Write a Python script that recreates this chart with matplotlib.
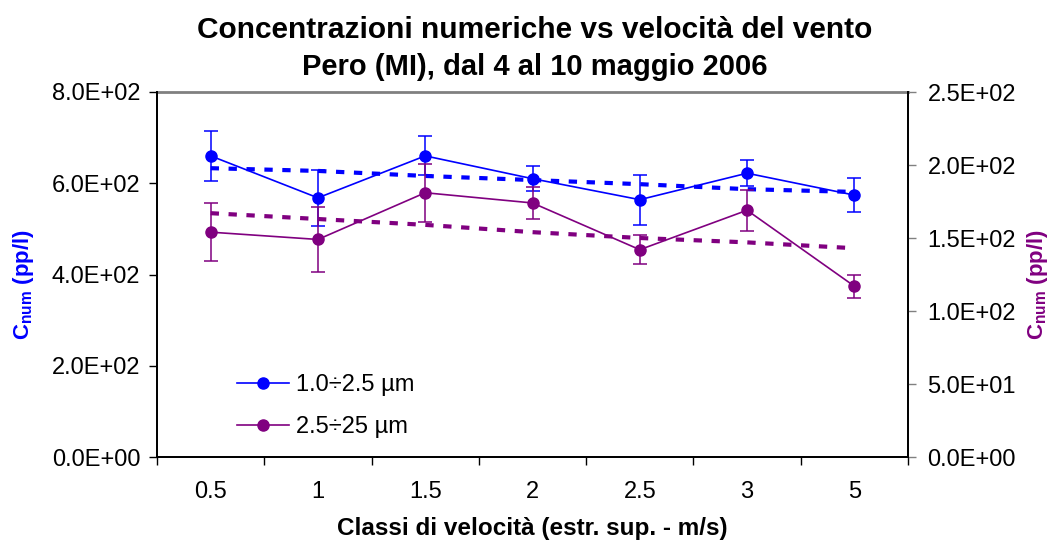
import numpy as np
import matplotlib.pyplot as plt

plt.rcParams['font.family'] = ['Liberation Sans', 'DejaVu Sans']
plt.rcParams['mathtext.fontset'] = 'custom'
plt.rcParams['mathtext.bf'] = 'Liberation Sans:bold'
plt.rcParams['mathtext.rm'] = 'Liberation Sans'

# Dati
classi = ['0.5', '1', '1.5', '2', '2.5', '3', '5']
fine = [660, 568, 660, 610, 564, 622, 574]          # 1.0÷2.5 µm (asse sx)
fine_err = [55, 62, 43, 28, 55, 29, 37]
fine_trend = [633, 627, 616, 607, 598, 587, 581]
coarse = [154, 149, 181, 174, 142, 169, 117]        # 2.5÷25 µm (asse dx)
coarse_err = [20, 22, 20, 11, 10, 14, 8]
coarse_trend = [167, 163, 159, 154, 150, 147, 143]

left_ticks = ['0.0E+00', '2.0E+02', '4.0E+02', '6.0E+02', '8.0E+02']
right_ticks = ['0.0E+00', '5.0E+01', '1.0E+02', '1.5E+02', '2.0E+02', '2.5E+02']

blu = '#0000FF'
viola = '#800080'

fig = plt.figure(figsize=(10.54, 5.42), dpi=100)
ax = fig.add_axes([157/1054, 1-457/542, 751/1054, 365/542])
ax2 = ax.twinx()
x = np.arange(len(classi))

# serie sx
ax.errorbar(x, fine, yerr=fine_err, fmt='none', ecolor=blu, elinewidth=1.1,
            capsize=5, capthick=1.1, zorder=3)
h1, = ax.plot(x, fine, color=blu, lw=1.2, marker='o', ms=8, zorder=4)
ax.plot(x, fine_trend, color=blu, lw=3, dashes=(2, 2.3), zorder=2)

# serie dx
ax2.errorbar(x, coarse, yerr=coarse_err, fmt='none', ecolor=viola, elinewidth=1.1,
             capsize=5, capthick=1.1, zorder=3)
h2, = ax2.plot(x, coarse, color=viola, lw=1.2, marker='o', ms=8, zorder=4)
ax2.plot(x, coarse_trend, color=viola, lw=3, dashes=(2, 2.3), zorder=2)

ax.set_xlim(-0.5, 6.5)
ax.set_ylim(0, 800)
ax2.set_ylim(0, 250)
ax.set_yticks(np.arange(0, 801, 200))
ax2.set_yticks(np.arange(0, 251, 50))
ax.set_yticklabels(left_ticks)
ax2.set_yticklabels(right_ticks)
ax.set_xticks(x)
ax.set_xticklabels(classi)
ax.set_xticks(np.arange(-0.5, 7, 1), minor=True)
ax.tick_params(axis='x', which='major', length=0, pad=17, labelsize=17)
ax.tick_params(axis='x', which='minor', length=6, width=1, direction='out')
ax.tick_params(axis='y', length=6, width=1, labelsize=17, pad=6)
ax2.tick_params(axis='y', length=6, width=1, labelsize=17, pad=8, color='#808080')

ax.axhline(800, color='#808080', lw=2, zorder=1, clip_on=False)
for a in (ax, ax2):
    a.spines['top'].set_visible(False)
    for s in ('left', 'right', 'bottom'):
        a.spines[s].set_linewidth(1.3)

fig.text(535/1054, 1-30/542, 'Concentrazioni numeriche vs velocità del vento',
         ha='center', va='center', fontsize=21.5, fontweight='bold')
fig.text(535/1054, 1-67/542, 'Pero (MI), dal 4 al 10 maggio 2006',
         ha='center', va='center', fontsize=21, fontweight='bold')
fig.text(532/1054, 1-529/542, 'Classi di velocità (estr. sup. - m/s)',
         ha='center', va='center', fontsize=17.5, fontweight='bold')
fig.text(23/1054, 1-340/542, r'C$_{\mathbf{num}}$ (pp/l)', rotation=90,
         ha='center', va='bottom', fontsize=16, fontweight='bold', color=blu)
fig.text(1038/1054, 1-340/542, r'C$_{\mathbf{num}}$ (pp/l)', rotation=90,
         ha='center', va='bottom', fontsize=16, fontweight='bold', color=viola)

ax2.legend([h1, h2], ['1.0÷2.5 µm', '2.5÷25 µm'], loc='upper left',
           bbox_to_anchor=(0.1065, 0.228), frameon=False, fontsize=17,
           handlelength=2.2, handletextpad=0.3, labelspacing=0.85,
           borderpad=0, borderaxespad=0)

fig.savefig('out.png', dpi=100)
